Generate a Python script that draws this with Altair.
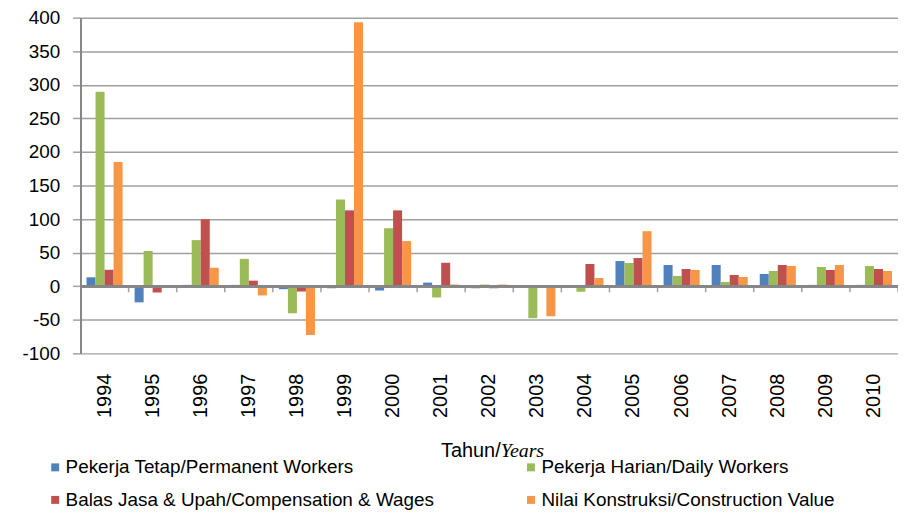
import altair as alt
import pandas as pd

years = [str(y) for y in range(1994, 2011)]
series_names = [
    "Pekerja Tetap/Permanent Workers",
    "Pekerja Harian/Daily Workers",
    "Balas Jasa & Upah/Compensation & Wages",
    "Nilai Konstruksi/Construction Value",
]
permanent = [13.3, -24, 2, 2, -4.4, -3, -6.4, 5.4, -3, 0, 0, 37.5, 31.6, 31.6, 18.3, 2, 2]
daily = [289.6, 52.5, 68.7, 40.7, -40.3, 129, 86.4, -16.7, 2.5, -47.6, -8.2, 34.6, 15.3, 6.4, 22.7, 28.6, 30.1]
wages = [24.5, -9.3, 99.7, 8.3, -7.9, 113, 113, 34.9, -3, 0, 33.2, 42, 25.7, 16.8, 31.6, 24.2, 25.7]
construction = [185, 0, 27.5, -13.7, -72.7, 393, 67.3, 2.5, 2.5, -44.7, 12.3, 82, 24.2, 13.8, 30.1, 31.6, 22.7]
colors = ["#4F81BD", "#9BBB59", "#C0504D", "#F79646"]
y_ticks = list(range(-100, 401, 50))

rows = []
for name, vals in zip(series_names, [permanent, daily, wages, construction]):
    for yr, v in zip(years, vals):
        rows.append({"year": yr, "series": name, "value": v})
df = pd.DataFrame(rows)
ydf = pd.DataFrame({"year": years, "zero": [0] * len(years), "low": [-9] * len(years)})

# legend grid fills column by column: order so rows read (0,1) / (2,3)
legend_order = [series_names[0], series_names[2], series_names[1], series_names[3]]

FONT = "Liberation Sans"

y_scale = alt.Scale(domain=[-100, 400], nice=False, zero=True)
y_axis = alt.Axis(title=None, values=y_ticks, labelFontSize=19, labelFont=FONT,
                  labelColor="#000000", gridColor="#A0A0A0", gridWidth=1.5,
                  domainColor="#868686", domainWidth=2, tickColor="#A0A0A0",
                  tickSize=8, tickWidth=1.5, labelPadding=13,
                  labelOverlap=False, labelExpr="datum.value + ''")
x_scale = alt.Scale(paddingInner=0.25, paddingOuter=0.125)
x_axis = alt.Axis(title=None, labelAngle=-90, labelFontSize=20, labelFont=FONT,
                  labelColor="#000000", labelPadding=20, domain=False, ticks=False,
                  labelBaseline="middle", labelAlign="right")

bars = alt.Chart(df).mark_bar().encode(
    x=alt.X("year:N", sort=years, scale=x_scale, axis=x_axis),
    xOffset=alt.XOffset("series:N", sort=series_names, scale=alt.Scale(paddingInner=0)),
    y=alt.Y("value:Q", scale=y_scale, axis=y_axis),
    color=alt.Color("series:N", sort=series_names,
                    scale=alt.Scale(domain=series_names, range=colors),
                    legend=alt.Legend(title=None, orient="none", legendX=-35, legendY=443,
                                      values=legend_order,
                                      columns=2, columnPadding=87, rowPadding=13,
                                      symbolType="square", symbolSize=64, symbolStrokeWidth=0,
                                      labelFontSize=19, labelFont=FONT, labelColor="#000000",
                                      labelLimit=0, labelOffset=1)),
)

zero = alt.Chart(ydf).mark_rule(color="#868686", strokeWidth=2).encode(
    y=alt.Y("zero:Q", scale=y_scale, axis=y_axis))
ticks = alt.Chart(ydf).mark_rule(color="#A0A0A0", strokeWidth=1.5, xOffset=6.05).encode(
    x=alt.X("year:N", sort=years, scale=x_scale, axis=x_axis, bandPosition=1),
    y=alt.Y("zero:Q", scale=y_scale, axis=y_axis), y2="low:Q",
)

t1 = alt.Chart(ydf.head(1)).mark_text(text="Tahun/", font=FONT, fontSize=20, align="right",
                                      baseline="alphabetic", color="#000000").encode(
    x=alt.value(423), y=alt.value(442))
t2 = alt.Chart(ydf.head(1)).mark_text(text="Years", font="Liberation Serif", fontStyle="italic",
                                      fontSize=20, align="left", baseline="alphabetic",
                                      color="#000000").encode(
    x=alt.value(423), y=alt.value(442))

chart = alt.layer(bars, ticks, zero, t1, t2).properties(
    width=823, height=338,
    autosize=alt.AutoSizeParams(type="none"),
    padding={"left": 73, "top": 8, "right": 0, "bottom": 160},
).configure_view(stroke=None)

chart.save("out.html", embed_options={"renderer": "svg", "actions": False})
